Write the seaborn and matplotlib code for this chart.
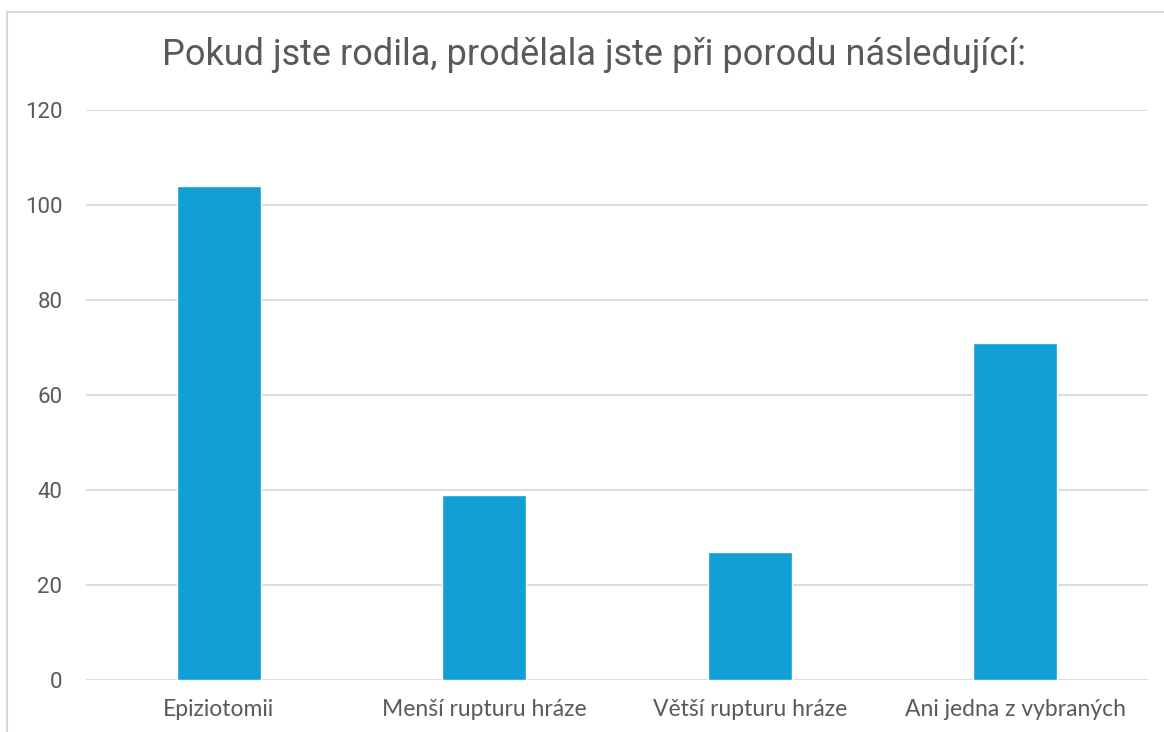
import pandas as pd
import matplotlib
matplotlib.use("Agg")
from matplotlib import pyplot as plt
from matplotlib.patches import Rectangle
import seaborn as sns

categories = ["Epiziotomii", "Menší rupturu hráze", "Větší rupturu hráze", "Ani jedna z vybraných"]
counts = [104, 39, 27, 71]
title = "Pokud jste rodila, prodělala jste při porodu následující:"

df = pd.DataFrame({"kategorie": categories, "pocet": counts})

sns.set_theme(style="white")
plt.rcParams["font.family"] = ["Roboto", "DejaVu Sans"]

fig = plt.figure(figsize=(11.64, 7.32), dpi=100)
ax = fig.add_axes([86 / 1164, 1 - 680 / 732, (1148 - 86) / 1164, (680 - 110) / 732])

sns.barplot(data=df, x="kategorie", y="pocet", color="#129fd6", saturation=1, width=0.316, ax=ax, zorder=3)

ax.set_ylim(0, 120)
ax.set_xlim(-0.5, 3.5)
ax.set_yticks(range(0, 121, 20))
ax.yaxis.grid(True, color="#d9d9d9", linewidth=1.3, zorder=0)
ax.set_axisbelow(True)
for s in ax.spines.values():
    s.set_visible(False)
ax.set_xlabel("")
ax.set_ylabel("")
ax.tick_params(axis="y", length=0, pad=17, labelsize=16, labelcolor="#595959")
ax.tick_params(axis="x", length=0, pad=14, labelcolor="#595959")
for lbl in ax.get_xticklabels():
    lbl.set_fontfamily(["Lato", "DejaVu Sans"])
    lbl.set_fontsize(16.5)

fig.text(0.5 * (158 + 1030) / 1164, 1 - 55 / 732, title, ha="center", va="center",
         fontsize=26, color="#595959")

fig.patches.append(Rectangle((7 / 1164, -0.05), 1.1, 1 - 12 / 732 + 0.05, transform=fig.transFigure,
                             fill=False, edgecolor="#d9d9d9", linewidth=1.5))

plt.savefig("out.png", dpi=100)
